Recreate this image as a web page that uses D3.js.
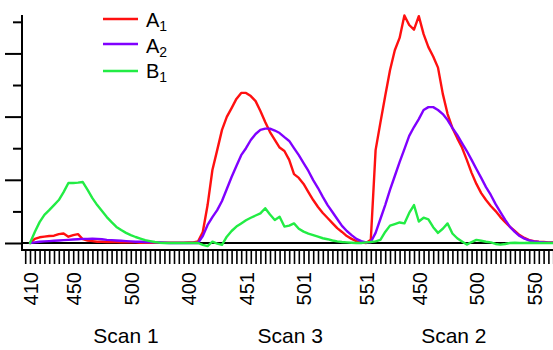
<!DOCTYPE html>
<html>
<head>
<meta charset="utf-8">
<script src="https://cdn.jsdelivr.net/npm/d3@7"></script>
<style>
  html, body { margin: 0; padding: 0; background: #fff; }
  svg { display: block; }
</style>
</head>
<body>
<script>
// Absorbance traces for three concatenated scans, one sample per axis position.
const A1 = [
  0, 0.13, 0.18, 0.2, 0.22, 0.23, 0.28, 0.3, 0.2, 0.25, 0.28, 0.12, 0.08, 0.06,
  0.04, 0.04, 0.03, 0.03, 0.03, 0.02, 0.02, 0.02, 0.02, 0.01, 0.01, 0.01, 0.01, 0.01, 0.01, 0.01, 0.01, 0.01, 0.01,
  0.02, 0.02, 0.05,
  0.35, 1.2, 2.31, 2.94, 3.58, 3.99, 4.27, 4.56, 4.75, 4.75, 4.65, 4.49, 4.18, 3.83,
  3.51, 3.26, 3.02, 2.91, 2.63, 2.18, 2.06, 1.87, 1.61, 1.36, 1.14, 0.95, 0.79, 0.63, 0.47, 0.35, 0.22, 0.13, 0.06, 0.02, 0,
  0.1, 2.94, 3.81, 4.65, 5.47, 6.1, 6.49, 7.2, 6.9, 6.75, 7.18,
  6.61, 6.2, 5.9, 5.55, 4.72, 4.08, 3.64, 3.32, 3.02, 2.63, 2.22, 1.87, 1.58, 1.36, 1.17, 1.01, 0.82, 0.66, 0.51, 0.38, 0.25, 0.16, 0.09, 0.06, 0.04, 0.03, 0.02, 0.02
];
const A2 = [
  0, 0.02, 0.04, 0.05, 0.06, 0.07, 0.08, 0.09, 0.1, 0.11, 0.12, 0.13, 0.13, 0.14, 0.13, 0.12, 0.1, 0.09, 0.08, 0.07, 0.06, 0.05, 0.04, 0.04, 0.03, 0.03, 0.02, 0.02, 0.01,
  0, 0, 0, 0, 0, 0, 0,
  0.22, 0.57, 0.82, 1.04, 1.33, 1.71, 2.09, 2.44, 2.78, 3.0, 3.26, 3.45, 3.58, 3.62, 3.62, 3.56, 3.48, 3.35, 3.23, 3.0, 2.78, 2.53, 2.28, 1.99, 1.74, 1.46, 1.2, 0.98, 0.76, 0.54, 0.38, 0.25, 0.13, 0.06, 0.02,
  0.03, 0.32, 0.76, 1.2, 1.68, 2.12, 2.56, 2.97, 3.39, 3.67, 3.92, 4.21, 4.3, 4.3, 4.21, 4.08, 3.89, 3.64, 3.42, 3.16, 2.91, 2.63, 2.34, 2.06, 1.77, 1.52, 1.23, 0.98, 0.73, 0.51, 0.35, 0.22, 0.14, 0.08, 0.05, 0.03, 0.02, 0.01, 0.01
];
const B1 = [
  0, 0.35, 0.66, 0.89, 1.04, 1.2, 1.36, 1.61, 1.9, 1.9, 1.91, 1.93, 1.68, 1.42, 1.2, 1.01, 0.82, 0.66, 0.51, 0.41, 0.32, 0.25, 0.19, 0.14, 0.09, 0.06, 0.03, 0.01, 0,
  0, 0, 0, 0, 0, 0, 0, -0.06, -0.1, 0.04, -0.02, -0.06,
  0.2, 0.38, 0.52, 0.62, 0.72, 0.8, 0.87, 0.94, 1.1, 0.9, 0.73, 0.83, 0.52, 0.55, 0.62, 0.45, 0.36, 0.3, 0.25, 0.2, 0.15, 0.12, 0.08, 0.05, 0.03, 0.02, 0.01, 0, 0, 0.02,
  0.03, 0.05, 0.1, 0.35, 0.55, 0.6, 0.65, 0.62, 0.95, 1.2, 0.68, 0.8, 0.75, 0.5, 0.32, 0.45, 0.62, 0.3, 0.15, 0.05,
  -0.05, 0.03, 0.1, 0.07, 0.04, 0.02, -0.03, -0.05, -0.03, 0, 0.01, 0, 0, 0.01, 0, 0, 0, 0, 0
];

// Wavelength labels shown at selected sample positions
const tickIndex  = [0, 9, 21, 33, 45, 57, 70, 81, 93, 105];
const tickLabels = ["410", "450", "500", "400", "451", "501", "551", "450", "500", "550"];

// Scan group captions and the sample position each is centred on
const scanNames  = ["Scan 1", "Scan 3", "Scan 2"];
const scanCenter = [20, 54.2, 88.3];

const seriesNames  = ["A", "A", "B"];
const seriesSubs   = ["1", "2", "1"];
const seriesColors = ["#ff1010", "#8000ff", "#22ec44"];
const seriesData   = [A1, A2, B1];

const W = 553, H = 350;
const FONT = "'Liberation Sans', Arial, Helvetica, sans-serif";

const svg = d3.select("body").append("svg")
  .attr("width", W).attr("height", H)
  .style("font-family", FONT);

const x = d3.scaleLinear().domain([0, A1.length - 1]).range([30, 30 + (A1.length - 1) * 4.8]);
const y = d3.scaleLinear().domain([0, 7.2]).range([243, 15.5]);

// x axis: one tick per sample, wavelength labels rotated
const labelOf = new Map(tickIndex.map((t, k) => [t, tickLabels[k]]));
const xAxis = svg.append("g")
  .attr("transform", "translate(0,250)")
  .call(d3.axisBottom(x)
    .tickValues(d3.range(-1, A1.length))
    .tickSize(14)
    .tickSizeOuter(0)
    .tickFormat(i => labelOf.get(i) || ""));
xAxis.select(".domain").remove();
xAxis.selectAll(".tick line").attr("stroke", "#000").attr("stroke-width", 1.6);
xAxis.selectAll(".tick text")
  .attr("transform", "rotate(-90)")
  .attr("x", -22).attr("y", 0).attr("dy", "0.36em")
  .attr("text-anchor", "end")
  .attr("fill", "#000")
  .style("font-family", FONT)
  .style("font-size", "20px");
xAxis.append("line")
  .attr("x1", 21).attr("x2", W).attr("y1", 0).attr("y2", 0)
  .attr("stroke", "#000").attr("stroke-width", 2);

// y axis: long ticks on even units, short ticks on odd units
const yMajor = svg.append("g").attr("transform", "translate(22,0)")
  .call(d3.axisLeft(y).tickValues([0, 2, 4, 6]).tickSize(17).tickSizeOuter(0).tickFormat(""));
const yMinor = svg.append("g").attr("transform", "translate(22,0)")
  .call(d3.axisLeft(y).tickValues([1, 3, 5, 7]).tickSize(9).tickSizeOuter(0).tickFormat(""));
[yMajor, yMinor].forEach(g => {
  g.select(".domain").remove();
  g.selectAll(".tick line").attr("stroke", "#000").attr("stroke-width", 2);
});
svg.append("line")
  .attr("x1", 22).attr("x2", 22).attr("y1", 15).attr("y2", 251)
  .attr("stroke", "#000").attr("stroke-width", 2);

// zero baseline across the plot
svg.append("line")
  .attr("x1", 22).attr("x2", W).attr("y1", y(0)).attr("y2", y(0))
  .attr("stroke", "#000").attr("stroke-width", 2);

// traces
const line = d3.line().x((d, i) => x(i)).y(d => y(d));
seriesData.forEach((data, k) => {
  svg.append("path")
    .datum(data)
    .attr("d", line)
    .attr("fill", "none")
    .attr("stroke", seriesColors[k])
    .attr("stroke-width", 2.4)
    .attr("stroke-linejoin", "round")
    .attr("stroke-linecap", "round");
});

// scan captions
svg.selectAll("text.scan")
  .data(scanNames)
  .join("text")
  .attr("class", "scan")
  .attr("x", (d, k) => x(scanCenter[k]))
  .attr("y", 343)
  .attr("text-anchor", "middle")
  .style("font-size", "21px")
  .attr("fill", "#000")
  .text(d => d);

// legend
const legendRows = [19, 44, 71];
const legendBase = [27, 53, 78];
seriesNames.forEach((name, k) => {
  svg.append("line")
    .attr("x1", 103).attr("x2", 138)
    .attr("y1", legendRows[k]).attr("y2", legendRows[k])
    .attr("stroke", seriesColors[k]).attr("stroke-width", 2.4);
  const t = svg.append("text")
    .attr("x", 146).attr("y", legendBase[k])
    .attr("fill", "#000")
    .style("font-size", "20px");
  t.append("tspan").text(name);
  t.append("tspan").attr("dy", 4).style("font-size", "14px").text(seriesSubs[k]);
});
</script>
</body>
</html>
